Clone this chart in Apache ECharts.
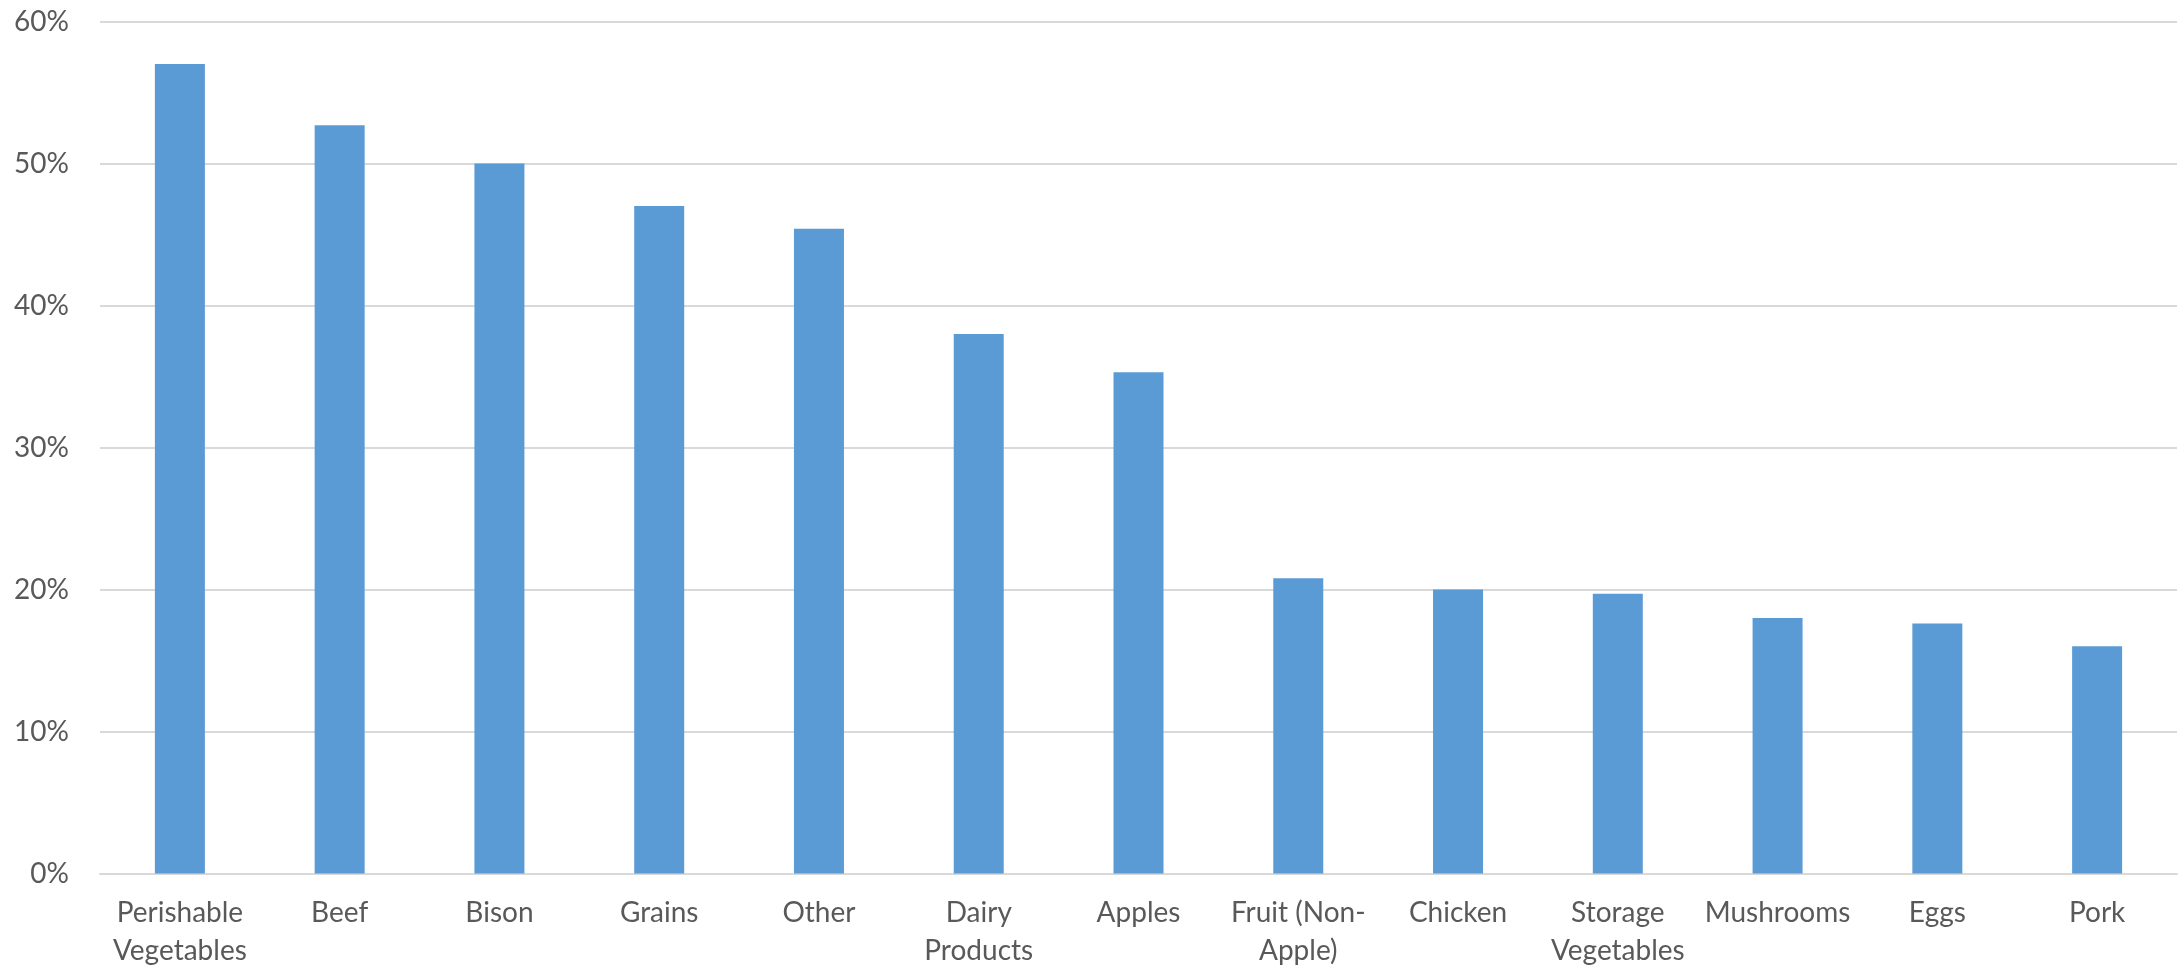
<!DOCTYPE html>
<html>
<head>
<meta charset="utf-8">
<script src="https://cdn.jsdelivr.net/npm/echarts@6/dist/echarts.min.js"></script>
<style>
html,body{margin:0;padding:0;background:#fff;}
#chart{width:2183px;height:970px;}
</style>
</head>
<body>
<div id="chart"></div>
<script>
const categories = ["Perishable\nVegetables","Beef","Bison","Grains","Other","Dairy\nProducts","Apples","Fruit (Non-\nApple)","Chicken","Storage\nVegetables","Mushrooms","Eggs","Pork"];
const values = [57.0, 52.7, 50.0, 47.0, 45.4, 38.0, 35.3, 20.8, 20.0, 19.7, 18.0, 17.6, 16.0];
const yTicks = {min: 0, max: 60, interval: 10};

const chart = echarts.init(document.getElementById('chart'), null, {renderer: 'canvas'});
const textColor = '#595959';
const font = 'Lato, "Open Sans", sans-serif';
chart.setOption({
  animation: false,
  backgroundColor: '#ffffff',
  grid: {left: 100, right: 6, top: 21.5, bottom: 96.5, containLabel: false},
  xAxis: {
    type: 'category',
    data: categories,
    axisLine: {show: true, lineStyle: {color: '#d9d9d9', width: 2}},
    axisTick: {show: false},
    axisLabel: {color: textColor, fontFamily: font, fontSize: 28, lineHeight: 38, margin: 20, interval: 0}
  },
  yAxis: {
    type: 'value',
    min: yTicks.min, max: yTicks.max, interval: yTicks.interval,
    axisLine: {show: false},
    axisTick: {show: false},
    splitLine: {lineStyle: {color: '#d9d9d9', width: 2}},
    axisLabel: {color: textColor, fontFamily: font, fontSize: 28, margin: 31, formatter: '{value}%'}
  },
  series: [{
    type: 'bar',
    data: values,
    barWidth: 50,
    itemStyle: {color: '#5b9bd5'}
  }]
});
</script>
</body>
</html>
